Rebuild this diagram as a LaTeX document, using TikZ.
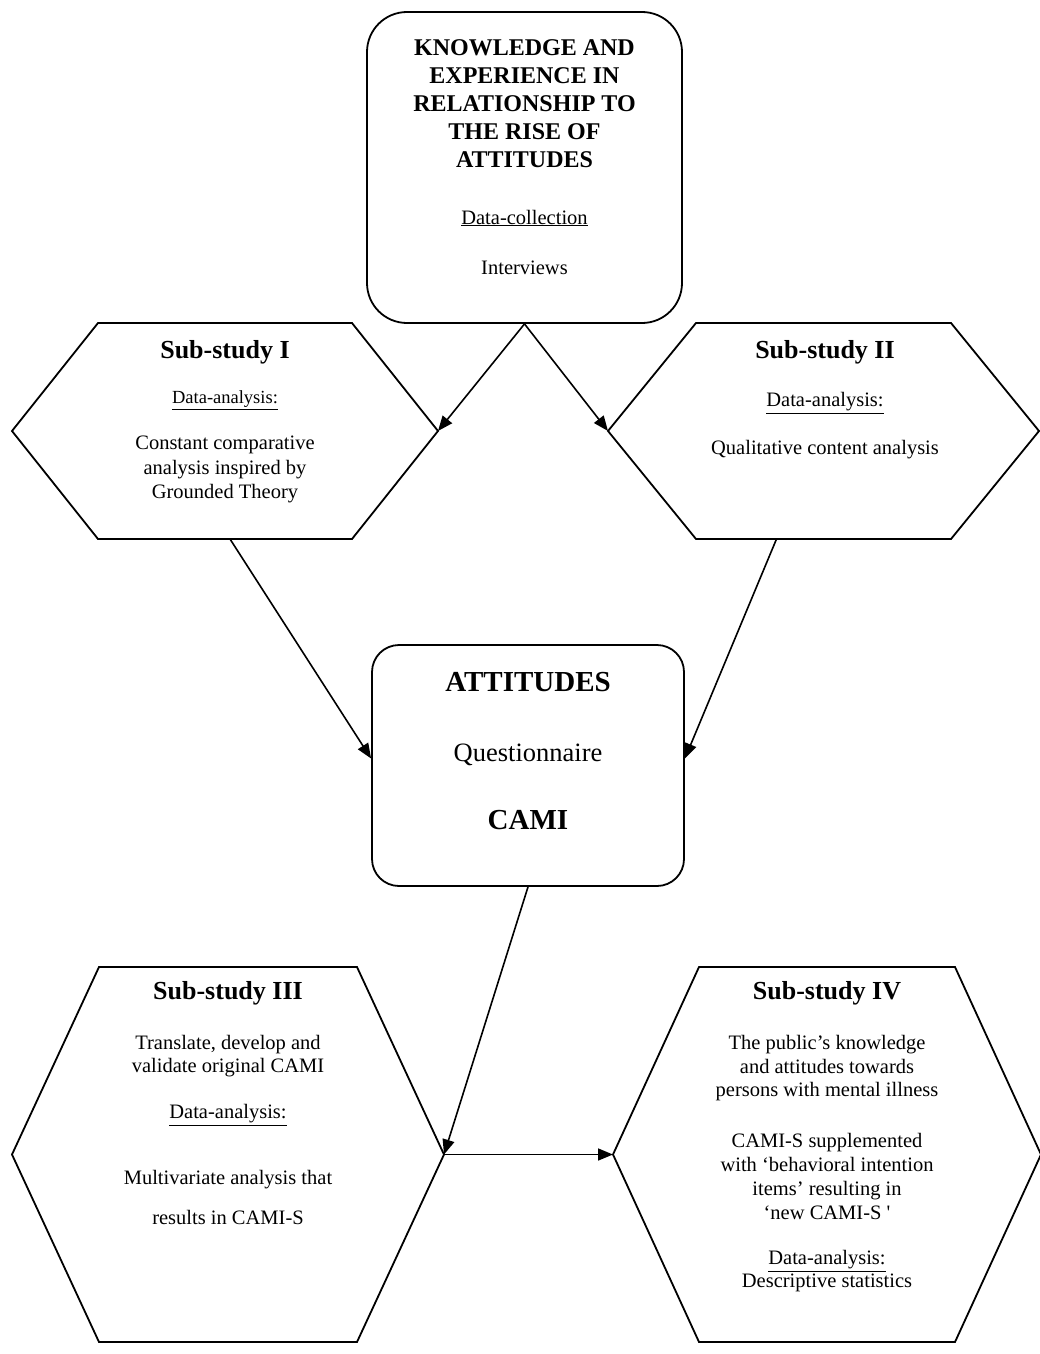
\documentclass[tikz,border=0pt]{standalone}
\usepackage{fontspec}
\setmainfont{Liberation Serif}
\usetikzlibrary{arrows.meta,calc}
\newcommand\drawhexagon[2]{%
  \draw[ln] (#1.west) -- ($(#1.north west)+(#2,0)$) -- ($(#1.north east)+(-#2,0)$)
    -- (#1.east) -- ($(#1.south east)+(-#2,0)$) -- ($(#1.south west)+(#2,0)$) -- cycle;}
\begin{document}
\begin{tikzpicture}[x=1pt,y=-1pt,
  ln/.style={line width=1.8pt, line join=miter},
  arr/.style={line width=1.6pt, -{Triangle[length=15pt,width=12pt]}},
  rbox/.style={draw, line width=1.8pt, inner sep=0pt},
  hexbox/.style={inner sep=0pt, outer sep=0pt},
  body/.style={align=center, inner sep=0pt, font=\fontsize{20.5}{23.5}\selectfont},
  hd/.style={align=center, inner sep=0pt, font=\fontsize{26}{30}\selectfont\bfseries},
]
\useasboundingbox (0,0) rectangle (1040,1354);

% boxes
\node[rbox, rounded corners=40pt, minimum width=315pt, minimum height=311pt] (top) at (524.5,167.5) {};
\node[rbox, rounded corners=27pt, minimum width=312pt, minimum height=241pt] (att) at (528,765.5) {};

\node[hexbox, minimum width=426pt, minimum height=216pt] (s1) at (225,431) {};
\node[hexbox, minimum width=431pt, minimum height=216pt] (s2) at (823.5,431) {};
\node[hexbox, minimum width=432pt, minimum height=375pt] (s3) at (228,1154.5) {};
\node[hexbox, minimum width=428pt, minimum height=375pt] (s4) at (827,1154.5) {};
\drawhexagon{s1}{86}
\drawhexagon{s2}{88}
\drawhexagon{s3}{87}
\drawhexagon{s4}{86}

% texts
\node[align=center, inner sep=0pt, font=\fontsize{24}{28}\selectfont\bfseries] (toptitle) at (524.5,103.5)
  {KNOWLEDGE AND\\EXPERIENCE IN\\RELATIONSHIP TO\\THE RISE OF\\ATTITUDES};
\node[body] (datacoll) at (524.5,218) {\underline{Data-collection}};
\node[body] (interviews) at (524.5,268) {Interviews};

\node[hd] (s1title) at (225,352) {Sub-study I};
\node[body, font=\fontsize{18.5}{22}\selectfont] (s1da) at (225,400) {\underline{Data-analysis:}};
\node[body, font=\fontsize{20.5}{24.5}\selectfont] (s1body) at (225,469.5) {Constant comparative\\analysis inspired by\\Grounded Theory};

\node[hd] (s2title) at (825,352) {Sub-study II};
\node[body] (s2da) at (825,403) {\underline{Data-analysis:}};
\node[body] (s2body) at (825,450) {Qualitative content analysis};

\node[hd, font=\fontsize{29}{34}\selectfont\bfseries] (atttitle) at (528,682) {ATTITUDES};
\node[body, font=\fontsize{26.5}{30}\selectfont] (quest) at (528,755) {Questionnaire};
\node[hd, font=\fontsize{29}{34}\selectfont\bfseries] (cami) at (528,820) {CAMI};

\node[hd] (s3title) at (228,993) {Sub-study III};
\node[body, font=\fontsize{20.5}{23}\selectfont] (s3a) at (228,1056.5) {Translate, develop and\\validate original CAMI};
\node[body] (s3da) at (228,1115) {\underline{Data-analysis:}};
\node[body, font=\fontsize{20.5}{40}\selectfont] (s3b) at (228,1197) {Multivariate analysis that\\results in CAMI-S};

\node[hd] (s4title) at (827,993) {Sub-study IV};
\node[body] (s4a) at (827,1068.5) {The public’s knowledge\\and attitudes towards\\persons with mental illness};
\node[body, font=\fontsize{20.5}{24}\selectfont] (s4b) at (827,1176) {CAMI-S supplemented\\with ‘behavioral intention\\items’ resulting in\\‘new CAMI-S \textquotesingle};
\node[body, font=\fontsize{20.5}{23}\selectfont] (s4c) at (827,1271.5) {\underline{Data-analysis:}\\Descriptive statistics};

% connectors
\draw[arr] (top.south) -- (s1.east);
\draw[arr] (top.south) -- (s2.west);
\draw[arr] ($(s1.south)+(5,0)$) -- ($(att.west)+(0,-7)$);
\draw[arr] ($(s2.south)+(-47,0)$) -- ($(att.east)+(0,-7)$);
\draw[arr] (att.south) -- (s3.east);
\draw[arr] (s3.east) -- (s4.west);
\end{tikzpicture}
\end{document}
